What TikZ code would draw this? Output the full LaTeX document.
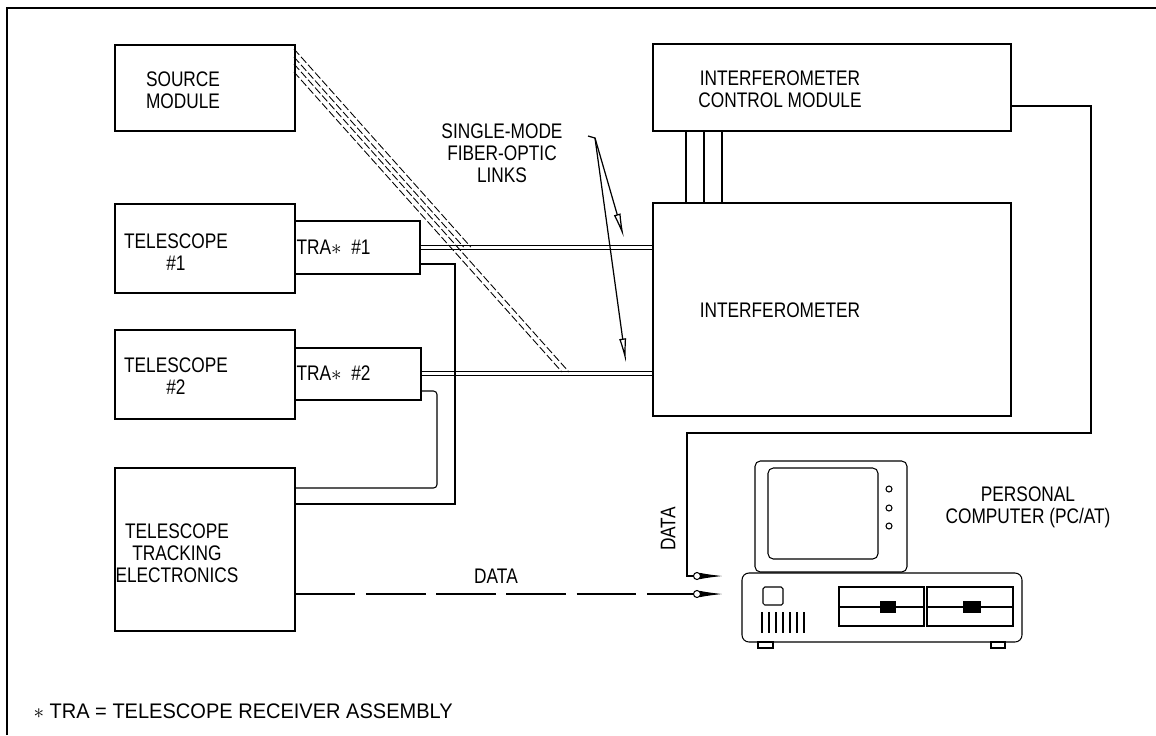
\documentclass[tikz,border=0pt]{standalone}
\usepackage{fontspec}
\newfontfamily\plotfont{Liberation Sans}[FakeStretch=0.82]
\newfontfamily\notefont{Liberation Sans}[FakeStretch=0.95]
\usetikzlibrary{arrows.meta}

\tikzset{
  box/.style = {draw, line width=0.9pt, inner sep=0pt, anchor=north west},
  lbl/.style = {align=center, inner sep=0pt},
  fiber/.style = {double, double distance=1.8pt, line width=0.5pt},
  srcfiber/.style = {line width=0.5pt, dash pattern=on 4.5pt off 1.5pt},
  plug/.style = {circle, draw, fill=white, inner sep=0pt, minimum size=4pt, line width=0.6pt},
  pointer/.style = {-{Latex[open,length=14pt,width=4pt]}, line width=0.7pt},
  datatip/.style = {-{Latex[length=13pt,width=3.5pt]}}
}

\begin{document}
\begin{tikzpicture}%
    [x=0.02cm, y=-0.02cm, line width=0.6pt,
     font=\plotfont\fontsize{12}{12.5}\selectfont]
    \useasboundingbox (0,0) rectangle (1156,735);
    % frame
    \draw[line width=1.2pt] (7,735) -- (7,8) -- (1156,8);

    % modules on the left
    \node[box, minimum width=3.6cm, minimum height=1.72cm] (src) at (114,44) {};
    \node[lbl] (srctxt) at (183,90) {SOURCE\\MODULE};
    \node[box, minimum width=3.6cm, minimum height=1.78cm] (tel1) at (114,203) {};
    \node[lbl] (tel1txt) at (176,252) {TELESCOPE\\\#1};
    \node[box, minimum width=2.5cm, minimum height=1.06cm] (tra1) at (294,220) {};
    \node[lbl, anchor=west] (tra1txt) at (296,247) {TRA$\ast$\ \ \#1};
    \node[box, minimum width=3.6cm, minimum height=1.78cm] (tel2) at (114,329) {};
    \node[lbl] (tel2txt) at (176,376) {TELESCOPE\\\#2};
    \node[box, minimum width=2.52cm, minimum height=1.04cm] (tra2) at (294,347) {};
    \node[lbl, anchor=west] (tra2txt) at (296,373) {TRA$\ast$\ \ \#2};
    \node[box, minimum width=3.6cm, minimum height=3.26cm] (trk) at (114,467) {};
    \node[lbl] (trktxt) at (177,553) {TELESCOPE\\TRACKING\\ELECTRONICS};

    % modules on the right
    \node[box, minimum width=7.16cm, minimum height=1.74cm] (icm) at (652,43) {};
    \node[lbl] (icmtxt) at (780,89) {INTERFEROMETER\\CONTROL MODULE};
    \node[box, minimum width=7.16cm, minimum height=4.26cm] (ifm) at (652,202) {};
    \node[lbl] (ifmtxt) at (780,310) {INTERFEROMETER};
    \draw ([xshift=0.68cm]icm.south west) -- ([xshift=0.68cm]ifm.north west);
    \draw ([xshift=1.04cm]icm.south west) -- ([xshift=1.04cm]ifm.north west);
    \draw ([xshift=1.40cm]icm.south west) -- ([xshift=1.40cm]ifm.north west);

    % fiber links
    \draw[fiber] (tra1.east) -- (tra1.east -| ifm.west);
    \draw[fiber] (tra2.east) -- (tra2.east -| ifm.west);
    \coordinate (j1) at (470.8,247);
    \coordinate (j2) at (463.6,247);
    \coordinate (j3) at (569,372);
    \coordinate (j4) at (562,372);
    \draw[srcfiber] (294,49) -- (j1);
    \draw[srcfiber] (294,57) -- (j2);
    \draw[srcfiber] (294,64) -- (j3);
    \draw[srcfiber] (294,72) -- (j4);

    \node[lbl] (fibtxt) at (502,153) {SINGLE-MODE\\FIBER-OPTIC\\LINKS};
    \coordinate (lead0) at (588,136);
    \coordinate (lead) at (595,138);
    \coordinate (a1) at (624,238);
    \coordinate (a2) at (626,363);
    \draw[pointer] (lead0) -- (lead) -- (a1);
    \draw[pointer] (lead) -- (a2);

    % telescope cables
    \coordinate (c1a) at (455,264);
    \coordinate (c1b) at (455,504);
    \draw (c1a -| tra1.east) -- (c1a) -- (c1b) -- (c1b -| trk.east);
    \coordinate (c2a) at (437,391);
    \coordinate (c2b) at (437,488);
    \draw[rounded corners=2pt] (c2a -| tra2.east) -- (c2a) -- (c2b) -- (c2b -| trk.east);

    % data lines to the computer
    \coordinate (d1) at (1091,106);
    \coordinate (d2) at (1091,433);
    \coordinate (d3) at (687,433);
    \coordinate (d4) at (687,576);
    \coordinate (t1) at (723,576);
    \coordinate (t2) at (723,594);
    \draw[datatip] (d1 -| icm.east) -- (d1) -- (d2) -- (d3) -- (d4) -- (t1);
    \draw[datatip, dash pattern=on 34pt off 6pt] (trk.east |- t2) -- (t2);
    \node[plug] (p1) at (697,576) {};
    \node[plug] (p2) at (697,594) {};
    \node[lbl] (data1) at (496,576) {DATA};
    \node[lbl, rotate=90] (data2) at (668,529) {DATA};

    % personal computer
    \draw[rounded corners=3pt] (755,461) rectangle (907,572);
    \draw[rounded corners=3pt] (768,468) rectangle (878,559);
    \draw (889,489) circle[radius=3];
    \draw (889,508) circle[radius=3];
    \draw (889,526) circle[radius=3];
    \draw[rounded corners=4pt] (742,573) rectangle (1022,642);
    \draw[rounded corners=1pt] (763,587) rectangle (783,605);
    \draw[line width=1.5pt] (762,612) -- (762,633) (769,612) -- (769,633)
        (776,612) -- (776,633) (783,612) -- (783,633) (790,612) -- (790,633)
        (797,612) -- (797,633) (804,612) -- (804,633);
    \draw (839,587) rectangle (924,626);
    \draw[line width=1.5pt] (839,607) -- (924,607);
    \fill (880,601) rectangle (896,613);
    \draw (927,587) rectangle (1013,626);
    \draw[line width=1.5pt] (927,607) -- (1013,607);
    \fill (963,601) rectangle (981,613);
    \draw (758,642) rectangle (773,648);
    \draw (991,642) rectangle (1005,648);
    \node[lbl] (pctxt) at (1028,507) {PERSONAL\\COMPUTER (PC/AT)};

    % footnote
    \node[lbl, anchor=west, font=\notefont\fontsize{12}{12.5}\selectfont] (note) at (33,711)
        {$\ast$ TRA = TELESCOPE\ RECEIVER\ ASSEMBLY};
\end{tikzpicture}
\end{document}
